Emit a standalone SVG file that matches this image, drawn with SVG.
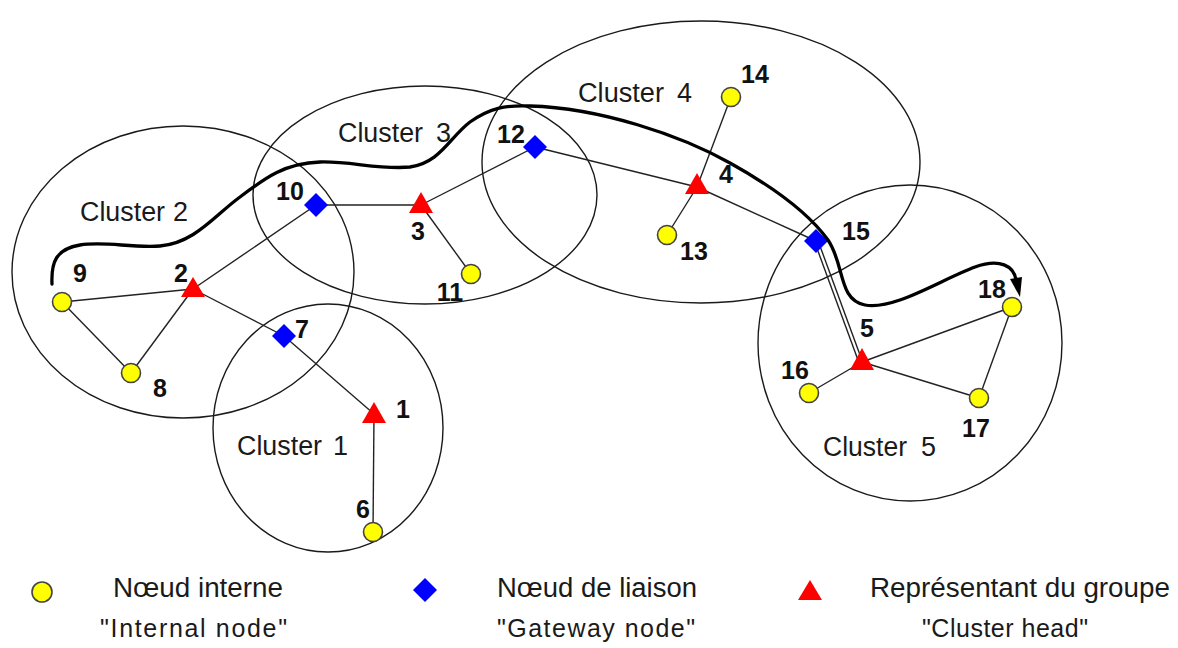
<svg xmlns="http://www.w3.org/2000/svg" width="1178" height="648" viewBox="0 0 1178 648">
  <defs>
    <style>
      .cluster { fill: none; stroke: #1a1a1a; stroke-width: 1.4; }
      .edge { stroke: #222; stroke-width: 1.4; fill: none; }
      .route { fill: none; stroke: #000; stroke-width: 3.3; stroke-linecap: round; }
      .internal { fill: #ffff00; stroke: #444; stroke-width: 1.6; }
      .gateway { fill: #0000ff; }
      .head { fill: #ff0000; }
      .num { font-family: "Liberation Sans", Arial, sans-serif; font-weight: bold; font-size: 25px; fill: #111; text-anchor: middle; }
      .clabel { font-family: "Liberation Sans", Arial, sans-serif; font-size: 27px; fill: #1a1a1a; }
      .legend { font-family: "Liberation Sans", Arial, sans-serif; font-size: 27px; fill: #1a1a1a; }
      .legend2 { font-family: "Liberation Sans", Arial, sans-serif; font-size: 25px; fill: #1a1a1a; }
    </style>
  </defs>
  <rect width="1178" height="648" fill="#ffffff"/>

  <!-- cluster boundaries -->
  <g id="clusters">
    <ellipse id="cluster-2" class="cluster" cx="183" cy="272" rx="171" ry="146"/>
    <ellipse id="cluster-1" class="cluster" cx="328" cy="428" rx="115" ry="124"/>
    <ellipse id="cluster-3" class="cluster" cx="425" cy="195" rx="172" ry="109"/>
    <ellipse id="cluster-4" class="cluster" cx="701" cy="162" rx="219" ry="141"/>
    <ellipse id="cluster-5" class="cluster" cx="910" cy="343" rx="152" ry="158"/>
    <text class="clabel" x="80" y="221" textLength="85" lengthAdjust="spacingAndGlyphs">Cluster</text>
    <text class="clabel" x="173" y="221">2</text>
    <text class="clabel" x="237" y="455" textLength="85" lengthAdjust="spacingAndGlyphs">Cluster</text>
    <text class="clabel" x="333" y="455">1</text>
    <text class="clabel" x="338" y="142" textLength="85" lengthAdjust="spacingAndGlyphs">Cluster</text>
    <text class="clabel" x="436" y="142">3</text>
    <text class="clabel" x="578" y="102" textLength="86" lengthAdjust="spacingAndGlyphs">Cluster</text>
    <text class="clabel" x="677" y="102">4</text>
    <text class="clabel" x="823" y="456" textLength="84" lengthAdjust="spacingAndGlyphs">Cluster</text>
    <text class="clabel" x="921" y="456">5</text>
  </g>

  <!-- links between nodes -->
  <g id="connectors">
    <line class="edge" x1="62" y1="302" x2="193" y2="289"/>
    <line class="edge" x1="62" y1="302" x2="131" y2="373"/>
    <line class="edge" x1="131" y1="373" x2="193" y2="289"/>
    <line class="edge" x1="193" y1="289" x2="316" y2="205"/>
    <line class="edge" x1="193" y1="289" x2="284" y2="336"/>
    <line class="edge" x1="284" y1="336" x2="374" y2="414"/>
    <line class="edge" x1="374" y1="414" x2="373" y2="532"/>
    <line class="edge" x1="316" y1="205" x2="421" y2="205"/>
    <line class="edge" x1="421" y1="205" x2="535" y2="147"/>
    <line class="edge" x1="421" y1="205" x2="471" y2="274"/>
    <line class="edge" x1="535" y1="147" x2="697" y2="187"/>
    <line class="edge" x1="697" y1="187" x2="731" y2="97"/>
    <line class="edge" x1="697" y1="187" x2="667" y2="235"/>
    <line class="edge" x1="697" y1="187" x2="816" y2="241"/>
    <line class="edge" x1="815" y1="243" x2="858" y2="360"/>
    <line class="edge" x1="818.5" y1="242" x2="861.5" y2="359"/>
    <line class="edge" x1="862" y1="362" x2="809" y2="393"/>
    <line class="edge" x1="862" y1="362" x2="979" y2="398"/>
    <line class="edge" x1="862" y1="362" x2="1012" y2="307"/>
    <line class="edge" x1="1012" y1="307" x2="979" y2="398"/>
  </g>

  <!-- nodes -->
  <g id="node-9"><text class="num" x="80" y="282">9</text><circle class="internal" cx="62" cy="302" r="9.5"/></g>
  <g id="node-8"><text class="num" x="160" y="397">8</text><circle class="internal" cx="131" cy="373" r="9.5"/></g>
  <g id="node-2"><text class="num" x="181" y="282">2</text><polygon class="head" points="193,277 205,297 181,297"/></g>
  <g id="node-7"><text class="num" x="302" y="338">7</text><polygon class="gateway" points="284,324 296,336 284,348 272,336"/></g>
  <g id="node-10"><text class="num" x="290" y="200">10</text><polygon class="gateway" points="316,193 328,205 316,217 304,205"/></g>
  <g id="node-1"><text class="num" x="403" y="418">1</text><polygon class="head" points="374,402 386,423 362,423"/></g>
  <g id="node-6"><text class="num" x="363" y="518">6</text><circle class="internal" cx="373" cy="532" r="9.5"/></g>
  <g id="node-3"><text class="num" x="418" y="240">3</text><polygon class="head" points="421,192 433,213 409,213"/></g>
  <g id="node-11"><text class="num" x="450" y="301">11</text><circle class="internal" cx="471" cy="274" r="9.5"/></g>
  <g id="node-12"><text class="num" x="511" y="143">12</text><polygon class="gateway" points="535,135 547,147 535,159 523,147"/></g>
  <g id="node-4"><text class="num" x="726" y="183">4</text><polygon class="head" points="697,173 709,194 685,194"/></g>
  <g id="node-14"><text class="num" x="755" y="83">14</text><circle class="internal" cx="731" cy="97" r="9.5"/></g>
  <g id="node-13"><text class="num" x="694" y="260">13</text><circle class="internal" cx="667" cy="235" r="9.5"/></g>
  <g id="node-15"><text class="num" x="856" y="240">15</text><polygon class="gateway" points="816,229 828,241 816,253 804,241"/></g>
  <g id="node-5"><text class="num" x="867" y="337">5</text><polygon class="head" points="862,348 874,370 850,370"/></g>
  <g id="node-16"><text class="num" x="795" y="379">16</text><circle class="internal" cx="809" cy="393" r="9.5"/></g>
  <g id="node-17"><text class="num" x="976" y="437">17</text><circle class="internal" cx="979" cy="398" r="9.5"/></g>
  <g id="node-18"><text class="num" x="992" y="298">18</text><circle class="internal" cx="1012" cy="307" r="9.5"/></g>

  <!-- routing path across clusters -->
  <g id="route">
    <path class="route" d="M52,284 C51,262 56,249 80,245 C105,241 130,248 160,246 C195,243 215,215 240,197 C265,178 285,163 320,162 C350,161 380,170 410,167 C440,163 450,137 470,122 C490,108 505,105 530,106 C600,108 680,135 730,163 C775,188 810,215 828,240 C845,265 838,300 865,305 C895,310 940,280 975,267 C1000,258 1014,266 1016,280"/>
    <polygon points="1010,279 1022,277 1020,297" fill="#000"/>
  </g>

  <!-- legend -->
  <g id="legend">
    <circle class="internal" cx="42" cy="592" r="10"/>
    <text class="legend" x="113" y="597" textLength="170" lengthAdjust="spacingAndGlyphs">Nœud interne</text>
    <text class="legend2" x="100" y="637" textLength="187" lengthAdjust="spacing">"Internal node"</text>
    <polygon class="gateway" points="425,578 437,590 425,602 413,590"/>
    <text class="legend" x="497" y="597" textLength="200" lengthAdjust="spacingAndGlyphs">Nœud de liaison</text>
    <text class="legend2" x="497" y="637" textLength="198" lengthAdjust="spacing">"Gateway node"</text>
    <polygon class="head" points="810,580 822,600 798,600"/>
    <text class="legend" x="870" y="597" textLength="300" lengthAdjust="spacingAndGlyphs">Représentant du groupe</text>
    <text class="legend2" x="922" y="637" textLength="166" lengthAdjust="spacing">"Cluster head"</text>
  </g>
</svg>
